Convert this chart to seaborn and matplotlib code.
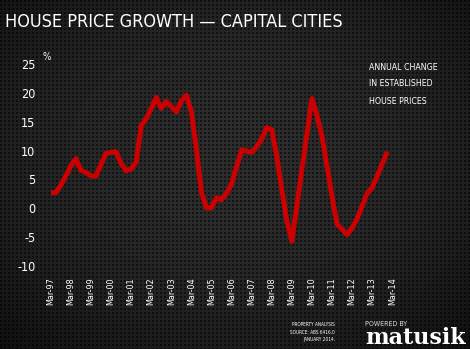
import numpy as np
import pandas as pd
import matplotlib
matplotlib.use("Agg")
import matplotlib.pyplot as plt
import seaborn as sns

# ---- data (quarterly, Mar-97 .. Dec-13) ----
values = [2.7, 2.7, 4.0, 5.6, 7.3, 8.6, 6.6, 6.2, 5.6, 5.6,
          7.6, 9.5, 9.7, 9.8, 7.8, 6.5, 6.8, 8.0, 14.3, 15.5,
          17.3, 19.2, 17.3, 18.5, 17.6, 16.7, 18.6, 19.6, 16.8, 10.2,
          2.8, 0.1, 0.1, 1.8, 1.5, 2.6, 4.2, 7.2, 10.1, 9.9,
          9.7, 10.7, 12.0, 14.0, 13.6, 9.0, 3.3, -2.2, -5.7, 0.5,
          6.7, 12.9, 19.0, 16.1, 12.5, 7.3, 2.0, -2.8, -3.6, -4.6,
          -3.4, -1.8, 0.4, 2.6, 3.6, 5.6, 7.7, 9.8]
tick_labels = ["Mar-97", "Mar-98", "Mar-99", "Mar-00", "Mar-01", "Mar-02",
               "Mar-03", "Mar-04", "Mar-05", "Mar-06", "Mar-07", "Mar-08",
               "Mar-09", "Mar-10", "Mar-11", "Mar-12", "Mar-13", "Mar-14"]
y_ticks = [-10, -5, 0, 5, 10, 15, 20, 25]
title = "HOUSE PRICE GROWTH \u2014 CAPITAL CITIES"
note_lines = ["ANNUAL CHANGE", "IN ESTABLISHED", "HOUSE PRICES"]
source_lines = ["PROPERTY ANALYSIS", "SOURCE: ABS 6416.0", "JANUARY 2014."]

df = pd.DataFrame({"quarter": np.arange(len(values)), "change": values})

sns.set_style("dark")
plt.rcParams["font.family"] = ["DejaVu Sans"]
plt.rcParams["font.stretch"] = "condensed"

W, H = 470, 349
fig = plt.figure(figsize=(W / 100, H / 100), dpi=100)
fig.patch.set_facecolor("#1c1c1c")

# ---- textured background (perforated metal look) ----
bg_ax = fig.add_axes([0, 0, 1, 1], zorder=-10)
yy, xx = np.mgrid[0:H, 0:W].astype(float)
cx, cy = W * 0.5, H * 0.45
r = np.sqrt(((xx - cx) / (W * 0.62)) ** 2 + ((yy - cy) / (H * 0.62)) ** 2)
base = 0.175 - 0.08 * np.clip(r, 0, 1.2) ** 2
row = (yy // 2).astype(int)
shift = (row % 2) * 2
dots = (((xx + shift) % 4) < 2) & ((yy % 4) < 2)
img = np.where(dots, base * 0.45, base)
bg_ax.imshow(img, cmap="gray", vmin=0, vmax=1, aspect="auto",
             interpolation="nearest", extent=[0, W, H, 0])
bg_ax.set_axis_off()

# ---- main axes ----
ax = fig.add_axes([50.7 / W, (H - 266) / H, 341.6 / W, 202 / H])
ax.set_facecolor("none")
sns.lineplot(data=df, x="quarter", y="change", ax=ax, color="#cc0000",
             linewidth=3.6, solid_joinstyle="round", solid_capstyle="butt")
ax.set_xlim(0, 68)
ax.set_ylim(-10, 25)
ax.set_xticks(np.arange(0, 4 * len(tick_labels), 4))
ax.set_xticklabels(tick_labels, rotation=90, color="white", fontsize=6.5)
ax.set_yticks(y_ticks)
ax.set_yticklabels([str(v) for v in y_ticks], color="white", fontsize=9)
ax.tick_params(axis="x", length=0, pad=8)
ax.tick_params(axis="y", length=0, pad=11)
ax.set_xlabel("")
ax.set_ylabel("")
ax.grid(False)
for s in ax.spines.values():
    s.set_visible(False)

# ---- texts ----
fig.text(5 / W, 1 - 27 / H, title, color="white", fontsize=13,
         va="baseline", ha="left")
fig.text(47 / W, 1 - 57 / H, "%", color="white", fontsize=7,
         ha="center", va="center")
for i, line in enumerate(note_lines):
    fig.text(369 / W, 1 - (67 + 17 * i) / H, line, color="white",
             fontsize=6.3, ha="left", va="center")
for i, line in enumerate(source_lines):
    fig.text(335 / W, 1 - (325 + 7 * i) / H, line, color="white",
             fontsize=3.4, ha="right", va="center")
fig.text(365 / W, 1 - 324 / H, "POWERED BY", color="#dddddd",
         fontsize=5, ha="left", va="center")
fig.text(365 / W, 1 - 344 / H, "matusik", color="white", fontsize=16,
         ha="left", va="baseline", family=["DejaVu Serif"],
         fontweight="bold", fontstretch="normal")

fig.savefig("out.png", dpi=100, facecolor=fig.get_facecolor())
